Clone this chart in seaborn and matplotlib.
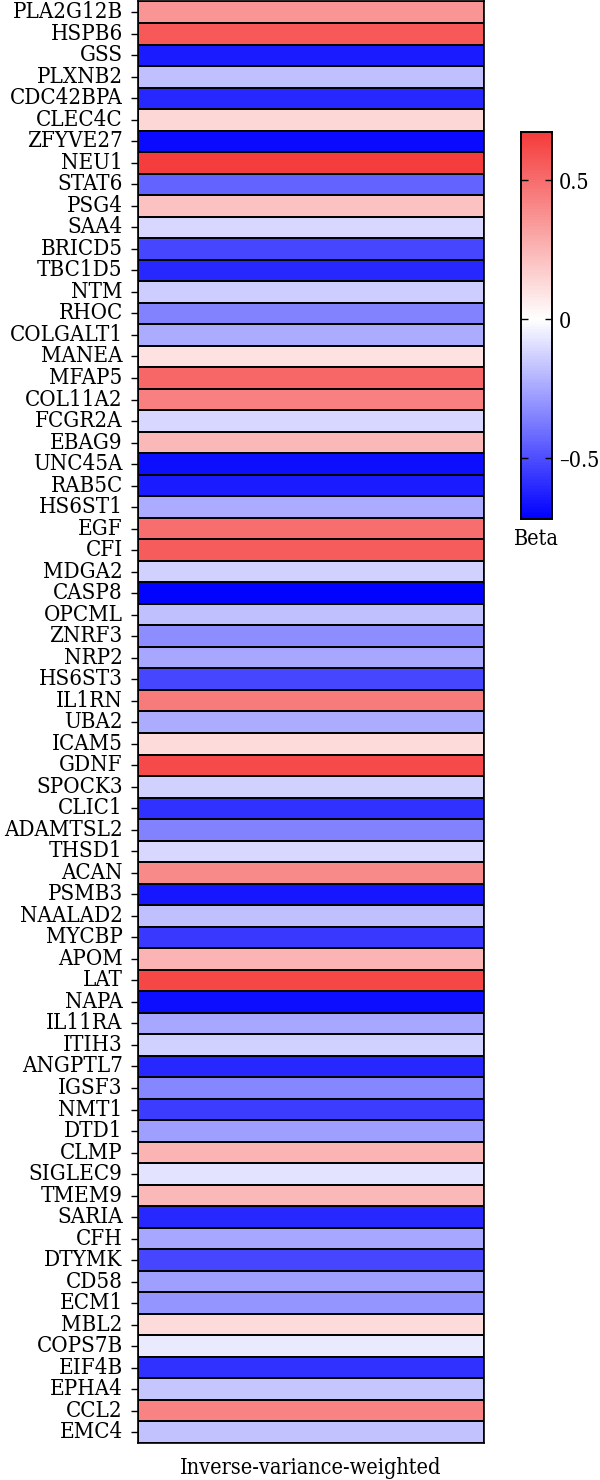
import numpy as np
import pandas as pd
import matplotlib
matplotlib.use("Agg")
import matplotlib.pyplot as plt
import seaborn as sns
from matplotlib.colors import LinearSegmentedColormap

# ============================ data ==============================================
genes = ['PLA2G12B', 'HSPB6', 'GSS', 'PLXNB2', 'CDC42BPA', 'CLEC4C', 'ZFYVE27', 'NEU1',
         'STAT6', 'PSG4', 'SAA4', 'BRICD5', 'TBC1D5', 'NTM', 'RHOC', 'COLGALT1', 'MANEA',
         'MFAP5', 'COL11A2', 'FCGR2A', 'EBAG9', 'UNC45A', 'RAB5C', 'HS6ST1', 'EGF', 'CFI',
         'MDGA2', 'CASP8', 'OPCML', 'ZNRF3', 'NRP2', 'HS6ST3', 'IL1RN', 'UBA2', 'ICAM5',
         'GDNF', 'SPOCK3', 'CLIC1', 'ADAMTSL2', 'THSD1', 'ACAN', 'PSMB3', 'NAALAD2', 'MYCBP',
         'APOM', 'LAT', 'NAPA', 'IL11RA', 'ITIH3', 'ANGPTL7', 'IGSF3', 'NMT1', 'DTD1', 'CLMP',
         'SIGLEC9', 'TMEM9', 'SARIA', 'CFH', 'DTYMK', 'CD58', 'ECM1', 'MBL2', 'COPS7B',
         'EIF4B', 'EPHA4', 'CCL2', 'EMC4']

beta = [0.36, 0.57, -0.64, -0.18, -0.61, 0.14, -0.69, 0.66,
        -0.44, 0.21, -0.11, -0.52, -0.61, -0.14, -0.35, -0.23, 0.10,
        0.52, 0.43, -0.11, 0.24, -0.68, -0.64, -0.24, 0.50, 0.56,
        -0.13, -0.71, -0.18, -0.32, -0.25, -0.52, 0.45, -0.23, 0.12,
        0.62, -0.13, -0.58, -0.35, -0.11, 0.40, -0.65, -0.18, -0.56,
        0.26, 0.63, -0.68, -0.25, -0.13, -0.61, -0.34, -0.55, -0.27, 0.26,
        -0.08, 0.24, -0.61, -0.25, -0.52, -0.27, -0.30, 0.12, -0.06,
        -0.58, -0.16, 0.42, -0.17]

cbar_ticks = [-0.5, 0, 0.5]
cbar_ticklabels = ['\u20130.5', '0', '0.5']

method = 'Inverse-variance-weighted'
vmin, vmax = -0.72, 0.675

df = pd.DataFrame({method: beta}, index=genes)

# blue -> white (at 0) -> red
mid = -vmin / (vmax - vmin)
cmap = LinearSegmentedColormap.from_list(
    'bwr_custom', [(0.0, '#0000FF'), (mid, '#FFFFFF'), (1.0, '#F53A3A')])

plt.rcParams['font.family'] = 'DejaVu Serif'
plt.rcParams['font.stretch'] = 'condensed'

fig = plt.figure(figsize=(6, 14.8), dpi=100)
ax = fig.add_axes([0.23, 0.025, 0.577, 0.974])
cax = fig.add_axes([0.868, 0.649, 0.052, 0.262])

sns.heatmap(df, ax=ax, cmap=cmap, vmin=vmin, vmax=vmax, linewidths=1.2,
            linecolor='black', cbar_ax=cax, cbar_kws={'ticks': cbar_ticks})

ax.tick_params(axis='y', length=5, width=1, labelsize=16, pad=6, rotation=0)
ax.tick_params(axis='x', length=0, labelsize=15.5, pad=10)
ax.set_ylabel('')
for s in ax.spines.values():
    s.set_visible(True)
    s.set_linewidth(1.2)

cax.tick_params(direction='in', left=True, right=True, length=5, width=1,
                labelsize=15.5, pad=5)
cax.set_yticklabels(cbar_ticklabels)
for s in cax.spines.values():
    s.set_visible(True)
    s.set_linewidth(1.2)
cax.set_xlabel('Beta', fontsize=15.5, labelpad=6)

fig.savefig('out.png', dpi=100)
